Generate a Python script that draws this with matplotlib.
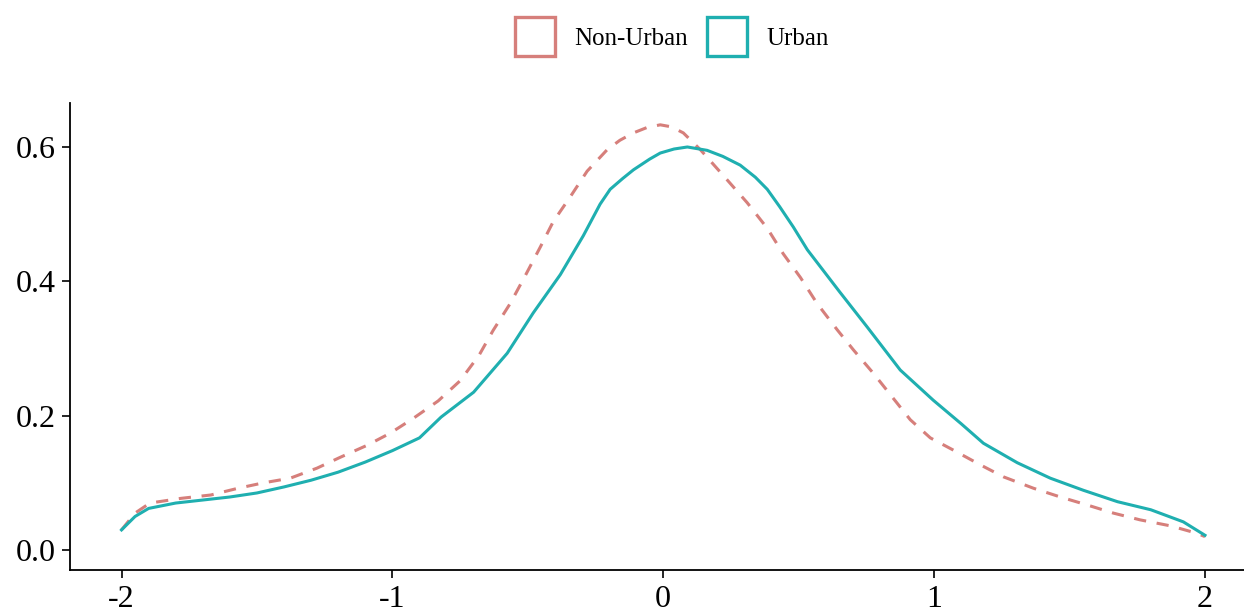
import matplotlib
matplotlib.use("Agg")
import matplotlib.pyplot as plt
from matplotlib.patches import Patch

plt.rcParams['font.family'] = ['Liberation Serif', 'DejaVu Serif']

# density estimates
urban_x = [-2.0, -1.95, -1.9, -1.8, -1.7, -1.6, -1.5, -1.4, -1.3, -1.2, -1.1, -1.0,
           -0.9, -0.82, -0.7, -0.576, -0.48, -0.38, -0.295, -0.233, -0.196, -0.15, -0.11,
           -0.05, -0.011, 0.04, 0.089, 0.162, 0.22, 0.284, 0.34, 0.384, 0.43, 0.48, 0.532,
           0.65, 0.753, 0.875, 0.997, 1.1, 1.182, 1.307, 1.429, 1.551, 1.677, 1.8, 1.92, 2.0]
urban_y = [0.030, 0.050, 0.062, 0.070, 0.0745, 0.079, 0.085, 0.094, 0.104, 0.116, 0.131, 0.148,
           0.167, 0.198, 0.235, 0.293, 0.353, 0.410, 0.468, 0.515, 0.537, 0.553, 0.566,
           0.582, 0.591, 0.597, 0.600, 0.595, 0.586, 0.573, 0.555, 0.537, 0.511, 0.481, 0.447,
           0.385, 0.332, 0.268, 0.223, 0.188, 0.159, 0.130, 0.107, 0.089, 0.072, 0.060, 0.042, 0.022]

nonurban_x = [-2.0, -1.95, -1.895, -1.78, -1.67, -1.57, -1.477, -1.377, -1.278, -1.193,
              -1.093, -1.008, -0.923, -0.831, -0.75, -0.68, -0.628, -0.565, -0.51, -0.454,
              -0.406, -0.343, -0.281, -0.207, -0.16, -0.11, -0.06, -0.011, 0.03, 0.074,
              0.137, 0.236, 0.31, 0.384, 0.443, 0.506, 0.568, 0.642, 0.702, 0.776, 0.845,
              0.912, 0.986, 1.07, 1.17, 1.256, 1.367, 1.466, 1.566, 1.662, 1.76, 1.873,
              1.97, 2.0]
nonurban_y = [0.030, 0.055, 0.070, 0.077, 0.082, 0.092, 0.100, 0.107, 0.122, 0.138,
              0.156, 0.174, 0.196, 0.222, 0.252, 0.290, 0.327, 0.367, 0.408, 0.451,
              0.489, 0.526, 0.564, 0.596, 0.610, 0.621, 0.629, 0.633, 0.630, 0.621,
              0.596, 0.551, 0.517, 0.479, 0.441, 0.406, 0.367, 0.328, 0.298, 0.263, 0.228,
              0.194, 0.167, 0.149, 0.127, 0.109, 0.092, 0.079, 0.067, 0.055, 0.045, 0.036,
              0.025, 0.020]

x_ticks = [-2, -1, 0, 1, 2]
y_ticks = [0.0, 0.2, 0.4, 0.6]

red = '#D67F7B'
teal = '#1FAFB0'

fig = plt.figure(figsize=(12.44, 6.13), dpi=100)
ax = fig.add_axes([0.0563, 0.070, 0.9437, 0.762])

ax.plot(nonurban_x, nonurban_y, color=red, lw=2.2, dashes=(4, 3.5), label='Non-Urban')
ax.plot(urban_x, urban_y, color=teal, lw=2.2, label='Urban')

ax.set_xlim(-2.19, 2.144)
ax.set_ylim(-0.0298, 0.6655)
ax.set_xticks(x_ticks)
ax.set_xticklabels([str(t) for t in x_ticks])
ax.set_yticks(y_ticks)
ax.set_yticklabels([f"{t:.1f}" for t in y_ticks])
ax.tick_params(labelsize=23, length=6, width=1.2, color='black', labelcolor='black')
ax.tick_params(axis='x', pad=5)
ax.tick_params(axis='y', pad=4)
for side in ['top', 'right']:
    ax.spines[side].set_visible(False)
for side in ['left', 'bottom']:
    ax.spines[side].set_linewidth(1.3)

handles = [Patch(facecolor='white', edgecolor=red, lw=2.4, label='Non-Urban'),
           Patch(facecolor='white', edgecolor=teal, lw=2.4, label='Urban')]
fig.legend(handles=handles, loc='center', bbox_to_anchor=(0.54, 0.94), ncol=2,
           frameon=False, fontsize=18, handlelength=1.6, handleheight=2.0,
           handletextpad=0.75, columnspacing=0.8)

fig.savefig("out.png", dpi=100)
